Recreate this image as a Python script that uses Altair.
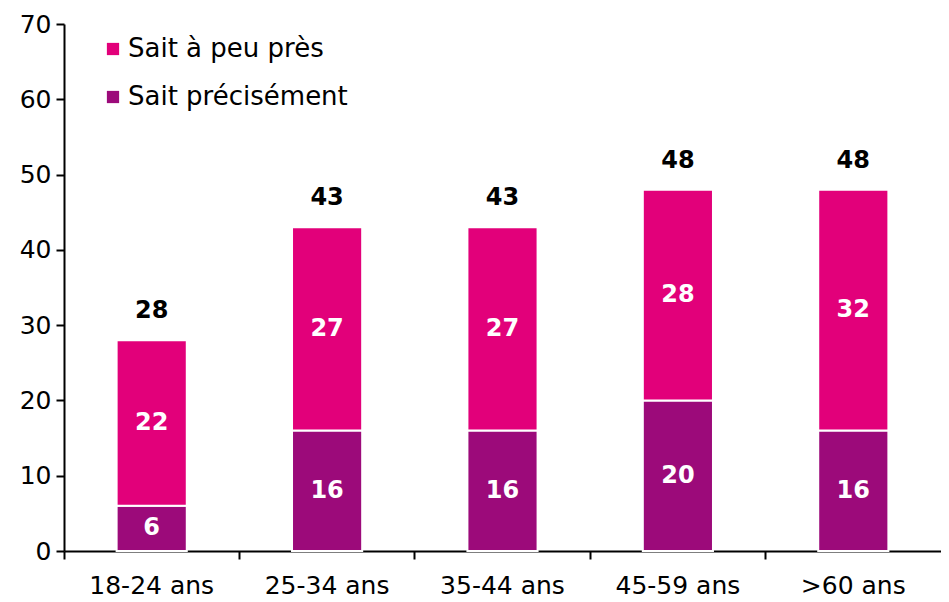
import altair as alt
import pandas as pd

categories = ["18-24 ans", "25-34 ans", "35-44 ans", "45-59 ans", ">60 ans"]
precisement = [6, 16, 16, 20, 16]
a_peu_pres = [22, 27, 27, 28, 32]
totals = [28, 43, 43, 48, 48]

series_names = ["Sait à peu près", "Sait précisément"]
colors = ["#E2007A", "#9C0A7A"]

rows = []
for c, p, a in zip(categories, precisement, a_peu_pres):
    rows.append({"cat": c, "serie": "Sait précisément", "start": 0, "end": p, "mid": p / 2, "val": p})
    rows.append({"cat": c, "serie": "Sait à peu près", "start": p, "end": p + a, "mid": p + a / 2, "val": a})
df = pd.DataFrame(rows)
df_tot = pd.DataFrame({"cat": categories, "total": totals})

FONT = "DejaVu Sans"

xscale = alt.Scale(paddingInner=0, paddingOuter=0)

x = alt.X("cat:N", sort=categories, title=None, scale=xscale,
          axis=alt.Axis(labelAngle=0, labelFontSize=25, labelFont=FONT, labelColor="black",
                        domainColor="black", domainWidth=2, tickColor="black", tickWidth=2,
                        tickSize=8, bandPosition=0, labelPadding=14))

bars = alt.Chart(df).mark_bar(width=alt.RelativeBandSize(0.4), stroke="white", strokeWidth=2).encode(
    x=x,
    y=alt.Y("start:Q", title=None, scale=alt.Scale(domain=[0, 70], nice=False),
            axis=alt.Axis(values=[0, 10, 20, 30, 40, 50, 60, 70], grid=False, labelFontSize=25,
                          labelFont=FONT, labelColor="black", domainColor="black", domainWidth=2,
                          tickColor="black", tickWidth=2, tickSize=8, labelPadding=5)),
    y2="end:Q",
    color=alt.Color("serie:N", scale=alt.Scale(domain=series_names, range=colors),
                    legend=alt.Legend(title=None, orient="none", legendX=36, legendY=12,
                                      symbolType="square", symbolSize=150, symbolStrokeWidth=0,
                                      labelFontSize=26, labelFont=FONT, labelColor="black",
                                      labelLimit=0, rowPadding=22, labelOffset=2)),
)

inner = alt.Chart(df).mark_text(color="white", fontWeight="bold", fontSize=24, font=FONT).encode(
    x=alt.X("cat:N", sort=categories, scale=xscale),
    y=alt.Y("mid:Q"),
    text="val:Q",
)

tot = alt.Chart(df_tot).mark_text(color="black", fontWeight="bold", fontSize=24, font=FONT, dy=-29).encode(
    x=alt.X("cat:N", sort=categories, scale=xscale),
    y=alt.Y("total:Q"),
    text="total:Q",
)

chart = alt.layer(bars, inner, tot).properties(
    width=877, height=527,
    autosize=alt.AutoSizeParams(type="none"),
    padding={"left": 56, "top": 16, "right": 0, "bottom": 50},
).configure_view(stroke=None)

chart.save("out.html", embed_options={"renderer": "svg", "actions": False})
